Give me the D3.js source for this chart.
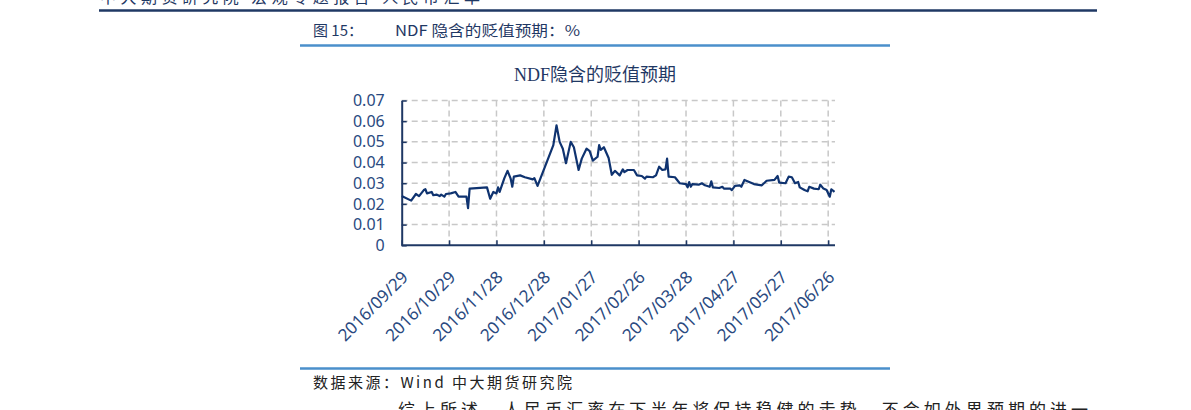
<!DOCTYPE html>
<html><head><meta charset="utf-8">
<script src="https://cdn.jsdelivr.net/npm/d3@7/dist/d3.min.js"></script>
<style>
html,body{margin:0;padding:0;background:#fff;overflow:hidden;}
svg{display:block;}
</style></head>
<body>
<svg id="c" width="1191" height="410"></svg>
<script>
// ---- data ----
const dates = ["2016/09/29","2016/10/05","2016/10/08","2016/10/10","2016/10/13","2016/10/14","2016/10/15","2016/10/18","2016/10/19","2016/10/21","2016/10/23","2016/10/24","2016/10/26","2016/10/27","2016/10/30","2016/11/02","2016/11/04","2016/11/09","2016/11/10","2016/11/11","2016/11/22","2016/11/24","2016/11/26","2016/11/28","2016/11/29","2016/11/30","2016/12/03","2016/12/05","2016/12/07","2016/12/08","2016/12/09","2016/12/13","2016/12/16","2016/12/21","2016/12/22","2016/12/24","2017/01/03","2017/01/05","2017/01/07","2017/01/09","2017/01/11","2017/01/14","2017/01/16","2017/01/19","2017/01/21","2017/01/24","2017/01/26","2017/01/28","2017/01/31","2017/02/01","2017/02/02","2017/02/04","2017/02/07","2017/02/09","2017/02/11","2017/02/14","2017/02/16","2017/02/17","2017/02/19","2017/02/23","2017/02/25","2017/02/28","2017/03/02","2017/03/03","2017/03/07","2017/03/09","2017/03/11","2017/03/13","2017/03/15","2017/03/16","2017/03/17","2017/03/21","2017/03/24","2017/03/28","2017/03/29","2017/03/30","2017/03/31","2017/04/01","2017/04/05","2017/04/07","2017/04/09","2017/04/12","2017/04/13","2017/04/14","2017/04/18","2017/04/20","2017/04/21","2017/04/25","2017/04/26","2017/04/28","2017/05/01","2017/05/02","2017/05/04","2017/05/07","2017/05/10","2017/05/15","2017/05/18","2017/05/23","2017/05/25","2017/05/26","2017/05/30","2017/06/01","2017/06/03","2017/06/05","2017/06/07","2017/06/08","2017/06/11","2017/06/13","2017/06/14","2017/06/17","2017/06/20","2017/06/21","2017/06/23","2017/06/25","2017/06/27","2017/06/28","2017/06/30"];
const values = [0.0238,0.0216,0.0248,0.0238,0.0267,0.0271,0.0251,0.0258,0.0242,0.0245,0.0238,0.0245,0.0235,0.0248,0.0251,0.0258,0.0235,0.0235,0.0180,0.0274,0.0280,0.0225,0.0258,0.0251,0.0280,0.0258,0.0325,0.0360,0.0322,0.0283,0.0332,0.0338,0.0329,0.0319,0.0325,0.0287,0.0484,0.0580,0.0500,0.0467,0.0397,0.0500,0.0474,0.0364,0.0419,0.0467,0.0455,0.0409,0.0428,0.0484,0.0461,0.0474,0.0422,0.0341,0.0360,0.0338,0.0367,0.0354,0.0364,0.0364,0.0338,0.0335,0.0322,0.0332,0.0329,0.0338,0.0380,0.0364,0.0367,0.0419,0.0332,0.0329,0.0300,0.0296,0.0280,0.0306,0.0283,0.0296,0.0293,0.0300,0.0290,0.0283,0.0309,0.0280,0.0277,0.0283,0.0274,0.0274,0.0267,0.0287,0.0290,0.0283,0.0316,0.0306,0.0296,0.0290,0.0312,0.0316,0.0335,0.0303,0.0300,0.0332,0.0329,0.0300,0.0306,0.0280,0.0267,0.0261,0.0283,0.0274,0.0271,0.0293,0.0274,0.0267,0.0235,0.0271,0.0258];
const xTickLabels = ["2016/09/29","2016/10/29","2016/11/28","2016/12/28","2017/01/27","2017/02/26","2017/03/28","2017/04/27","2017/05/27","2017/06/26"];
const yTickValues = [0,0.01,0.02,0.03,0.04,0.05,0.06,0.07];
const yTickLabels = ["0","0.01","0.02","0.03","0.04","0.05","0.06","0.07"];
const chartTitle = "NDF隐含的贬值预期";
const captionNo = "图 15：";
const captionText = "NDF 隐含的贬值预期：%";
const sourceText = "数据来源：Wind 中大期货研究院";
const bodyText = "综上所述，人民币汇率在下半年将保持稳健的走势，不会如外界预期的进一";
const headerText = "中大期货研究院 宏观专题报告 人民币汇率";

// ---- drawing ----
const parse = d3.utcParse("%Y/%m/%d");
const svg = d3.select("#c");
const navy = "#1f3864";
const lineBlue = "#4a8fcb";
const sans = "'Noto Sans','Noto Sans CJK SC',sans-serif";
const cjk = "'Noto Sans CJK SC',sans-serif";

// header (cut off at the top edge, as in the reference)
svg.append("text").attr("x",100).attr("y",3).attr("font-family",cjk).attr("font-size",16)
  .attr("fill",navy).attr("textLength",380).attr("lengthAdjust","spacing").text(headerText);
svg.append("line").attr("x1",99).attr("x2",1097).attr("y1",10.5).attr("y2",10.5)
  .attr("stroke",navy).attr("stroke-width",2.5);

// caption
svg.append("text").attr("x",313).attr("y",36).attr("font-family",cjk).attr("font-size",15)
  .attr("fill",navy).text(captionNo);
svg.append("text").attr("x",395).attr("y",36).attr("font-family",cjk).attr("font-size",15)
  .attr("fill",navy).attr("textLength",185).attr("lengthAdjust","spacingAndGlyphs").text(captionText);
svg.append("line").attr("x1",300).attr("x2",890).attr("y1",45.5).attr("y2",45.5)
  .attr("stroke",lineBlue).attr("stroke-width",2.5);
svg.append("line").attr("x1",300).attr("x2",890).attr("y1",368.5).attr("y2",368.5)
  .attr("stroke",lineBlue).attr("stroke-width",2.5);
svg.append("text").attr("x",313).attr("y",388).attr("font-family",cjk).attr("font-size",15)
  .attr("fill","#222").attr("textLength",259).attr("lengthAdjust","spacing").text(sourceText);
svg.append("text").attr("x",398).attr("y",416).attr("font-family",cjk).attr("font-size",17)
  .attr("fill","#222").attr("textLength",690).attr("lengthAdjust","spacing").text(bodyText);

// chart
const x = d3.scaleUtc().domain([parse("2016/09/29"), parse("2017/06/30")]).range([401.7, 834.5]);
const y = d3.scaleLinear().domain([0, 0.07]).range([245.3, 100.5]);
const xEnd = 835;

svg.append("text").attr("x",595).attr("y",81).attr("text-anchor","middle")
  .attr("font-family","'Liberation Serif','Noto Sans CJK SC',serif").attr("font-size",18)
  .attr("fill",navy).text(chartTitle);

const grid = svg.append("g").attr("stroke","#c8c8c8").attr("stroke-width",1.5).attr("stroke-dasharray","6,4");
grid.selectAll("line.h").data(yTickValues.slice(1)).join("line")
  .attr("x1",401.7).attr("x2",xEnd).attr("y1",d=>y(d)).attr("y2",d=>y(d));
grid.selectAll("line.v").data(xTickLabels.slice(1)).join("line")
  .attr("x1",d=>x(parse(d))).attr("x2",d=>x(parse(d))).attr("y1",y(0.07)).attr("y2",y(0));

// y axis
const yAxis = d3.axisLeft(y).tickValues(yTickValues).tickFormat((d,i)=>yTickLabels[i]).tickSizeInner(-5).tickSizeOuter(0).tickPadding(17);
const gy = svg.append("g").attr("transform","translate(401.7,0)").call(yAxis);
gy.select(".domain").attr("stroke",navy).attr("stroke-width",2);
gy.selectAll(".tick line").attr("stroke",navy).attr("stroke-width",1.5);
gy.selectAll(".tick text").attr("font-family",sans).attr("font-size",16).attr("fill","#2a4a7f");

// x axis
const xAxis = d3.axisBottom(x).tickValues(xTickLabels.map(parse)).tickFormat((d,i)=>xTickLabels[i]).tickSizeInner(-5).tickSizeOuter(0);
const gx = svg.append("g").attr("transform","translate(0,245.3)").call(xAxis);
gx.select(".domain").attr("stroke",navy).attr("stroke-width",2).attr("d","M401.7,0H"+xEnd);
gx.selectAll(".tick line").attr("stroke",navy).attr("stroke-width",1.5);
gx.selectAll(".tick text").attr("font-family",sans).attr("font-size",17).attr("fill","#2a4a7f")
  .attr("text-anchor","end").attr("dy",0).attr("y",0)
  .attr("transform","translate(7,33) rotate(-45)");

// line
const data = dates.map((d,i)=>({d:parse(d), v:values[i]}));
svg.append("path").datum(data).attr("fill","none").attr("stroke","#0f3370").attr("stroke-width",2.2)
  .attr("stroke-linejoin","round")
  .attr("d", d3.line().x(d=>x(d.d)).y(d=>y(d.v)));
</script>
</body></html>
